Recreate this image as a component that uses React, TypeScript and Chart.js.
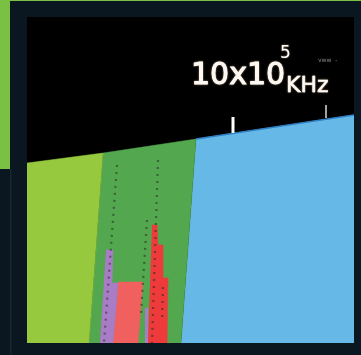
import React, { useEffect, useRef } from "react";
import { Chart, registerables } from "chart.js";

Chart.register(...registerables);

// Band areas (frequency position on x, level on y)
const limeX = [0, 62, 76, 0];
const limeY = [0, 0, 190, 180];
const greenX = [62, 154, 169, 76];
const greenY = [0, 0, 204, 190];
const blueX = [154, 327, 327, 169];
const blueY = [0, 0, 228, 204];

// Upper envelope edge over the blue band
const edgeX = [169, 327];
const edgeY = [204, 228];

// Signal bars
const purpleX = [73, 86, 91, 85, 86, 79];
const purpleY = [0, 0, 60, 60, 93, 93];
const salmonX = [86, 111, 116, 91];
const salmonY = [0, 0, 61, 61];
const thinPurpleX = [118, 121, 121, 118];
const thinPurpleY = [0, 0, 35, 35];
const redX = [121, 140, 141, 136, 136, 131, 130, 125];
const redY = [0, 0, 65, 65, 98, 98, 118, 118];

// Dotted guide lines
const guideAX = [90, 77];
const guideAY = [178, 0];
const guideBX = [131, 125];
const guideBY = [183, 0];
const guideCX = [120, 114];
const guideCY = [123, 30];
const guideDX = [136, 135];
const guideDY = [56, 23];

// Markers
const marker1X = [206, 206];
const marker1Y = [210, 226];
const marker2X = [299, 299];
const marker2Y = [225, 238];

const mainLabel = "10x10";
const expLabel = "5";
const unitLabel = "KHz";
const smallLabel = "vww  -";

const pts = (xs: number[], ys: number[]) => xs.map((x, i) => ({ x, y: ys[i] }));

const poly = (xs: number[], ys: number[], color: string, order: number) => ({
  data: pts(xs, ys),
  backgroundColor: color,
  borderColor: color,
  borderWidth: 0.5,
  fill: "shape",
  pointRadius: 0,
  tension: 0,
  order,
});

const dotted = (xs: number[], ys: number[]) => ({
  data: pts(xs, ys),
  borderColor: "rgba(35,45,35,0.55)",
  borderWidth: 2.2,
  borderDash: [2, 5],
  fill: false,
  pointRadius: 0,
  order: 2,
});

const framePlugin = {
  id: "frame",
  beforeDraw(chart: any) {
    const ctx = chart.ctx;
    ctx.save();
    ctx.fillStyle = "#0a1721";
    ctx.fillRect(0, 0, 361, 355);
    ctx.fillStyle = "#7ac143";
    ctx.fillRect(0, 0, 361, 1);
    ctx.fillRect(0, 0, 10, 169);
    ctx.fillStyle = "#16262f";
    ctx.fillRect(10, 169, 1.5, 186);
    const a = chart.chartArea;
    ctx.fillStyle = "#000000";
    ctx.fillRect(a.left, a.top, a.right - a.left, a.bottom - a.top);
    ctx.restore();
  },
  afterDraw(chart: any) {
    const ctx = chart.ctx;
    ctx.save();
    ctx.fillStyle = "#ffffff";
    ctx.strokeStyle = "#ffffff";
    ctx.lineWidth = 0.9;
    ctx.shadowColor = "rgba(255,210,160,0.6)";
    ctx.shadowBlur = 2;
    ctx.textBaseline = "alphabetic";
    ctx.font = '30px "DejaVu Sans"';
    ctx.fillText(mainLabel, 191, 84);
    ctx.strokeText(mainLabel, 191, 84);
    ctx.font = '17px "DejaVu Sans"';
    ctx.fillText(expLabel, 280, 58);
    ctx.font = '22px "DejaVu Sans"';
    ctx.fillText(unitLabel, 286, 92);
    ctx.lineWidth = 0.5;
    ctx.strokeText(unitLabel, 286, 92);
    ctx.shadowBlur = 0;
    ctx.fillStyle = "#8a8a8a";
    ctx.font = '6px "DejaVu Sans"';
    ctx.fillText(smallLabel, 318, 62);
    ctx.restore();
  },
};

export default function App() {
  const ref = useRef<HTMLCanvasElement>(null);
  useEffect(() => {
    if (!ref.current) return;
    const chart = new Chart(ref.current, {
      type: "line",
      data: {
        datasets: [
          poly(limeX, limeY, "#96c93d", 10),
          poly(greenX, greenY, "#52a74f", 10),
          poly(blueX, blueY, "#66b9e7", 10),
          {
            data: pts(edgeX, edgeY),
            borderColor: "#2f7fc4",
            borderWidth: 1.5,
            fill: false,
            pointRadius: 0,
            order: 9,
          },
          poly(purpleX, purpleY, "#a97cc6", 6),
          poly(salmonX, salmonY, "#f0605f", 6),
          poly(thinPurpleX, thinPurpleY, "#a97cc6", 6),
          poly(redX, redY, "#ef3a3c", 5),
          dotted(guideAX, guideAY),
          dotted(guideBX, guideBY),
          dotted(guideCX, guideCY),
          dotted(guideDX, guideDY),
          {
            data: pts(marker1X, marker1Y),
            borderColor: "#ffffff",
            borderWidth: 3,
            fill: false,
            pointRadius: 0,
            order: 0,
          },
          {
            data: pts(marker2X, marker2Y),
            borderColor: "#d8d8d8",
            borderWidth: 1.5,
            fill: false,
            pointRadius: 0,
            order: 0,
          },
        ] as any,
      },
      options: {
        animation: false,
        responsive: false,
        layout: { padding: { left: 27, top: 17, right: 7, bottom: 12 } },
        scales: {
          x: { type: "linear", min: 0, max: 327, display: false },
          y: { type: "linear", min: 0, max: 326, display: false },
        },
        plugins: { legend: { display: false }, tooltip: { enabled: false } },
      } as any,
      plugins: [framePlugin],
    });
    return () => chart.destroy();
  }, []);
  return (
    <div style={{ position: "fixed", left: 0, top: 0, width: 361, height: 355 }}>
      <canvas ref={ref} width={361} height={355} style={{ display: "block" }} />
    </div>
  );
}
